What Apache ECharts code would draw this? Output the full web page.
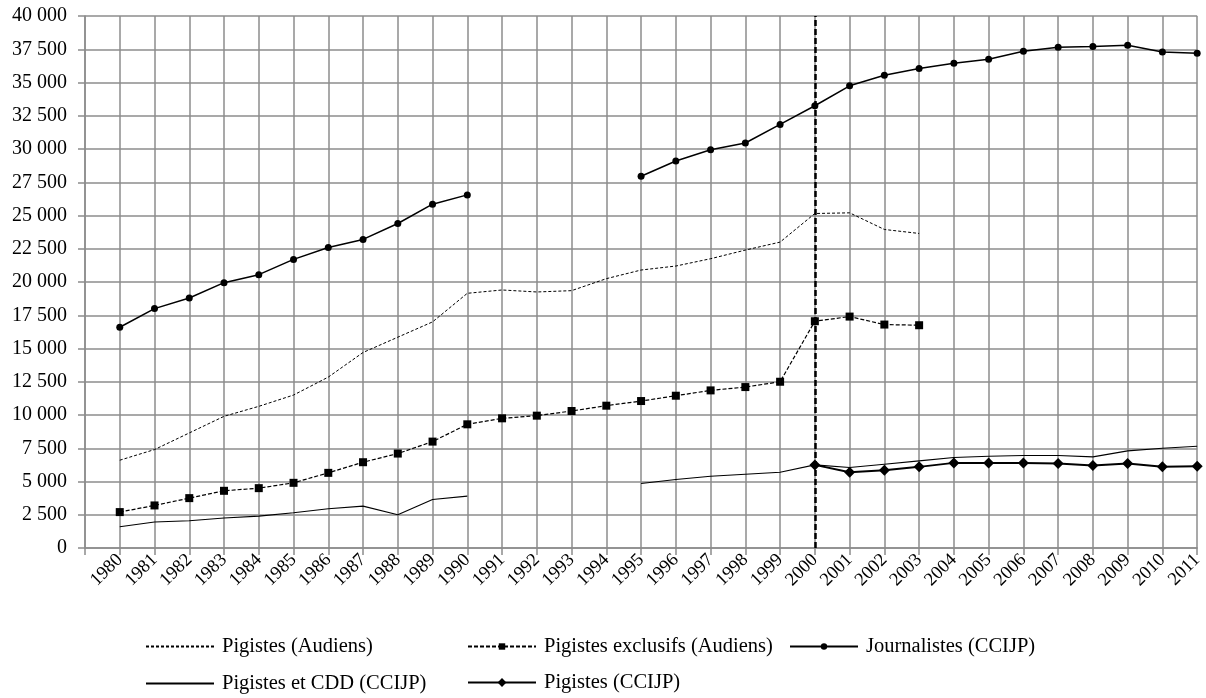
<!DOCTYPE html>
<html>
<head>
<meta charset="utf-8">
<script src="https://cdn.jsdelivr.net/npm/echarts@6/dist/echarts.min.js"></script>
<style>
  html, body { margin: 0; padding: 0; background: #fff; }
  #main { width: 1206px; height: 698px; }
</style>
</head>
<body>
<div id="main"></div>
<script>
  // years on the x axis (an empty slot before 1980, as in the original)
  var years = ['1980','1981','1982','1983','1984','1985','1986','1987','1988','1989','1990',
    '1991','1992','1993','1994','1995','1996','1997','1998','1999','2000',
    '2001','2002','2003','2004','2005','2006','2007','2008','2009','2010','2011'];

  var pigistesAudiens = [6600, 7400, 8650, 9900, 10650, 11500, 12850, 14700, 15850, 17000, 19150,
    19400, 19250, 19350, 20250, 20900, 21200, 21750, 22400, 23000, 25150,
    25200, 23950, 23650, null, null, null, null, null, null, null, null];

  var pigistesExclusifs = [2700, 3200, 3750, 4300, 4500, 4900, 5650, 6450, 7100, 8000, 9300,
    9750, 9950, 10300, 10700, 11050, 11450, 11850, 12100, 12500, 17050,
    17400, 16800, 16750, null, null, null, null, null, null, null, null];

  var journalistes = [16600, 18000, 18800, 19950, 20550, 21700, 22600, 23200, 24400, 25850, 26550,
    null, null, null, null, 27950, 29100, 29950, 30450, 31850, 33250,
    34750, 35550, 36050, 36450, 36750, 37350, 37650, 37700, 37800, 37300, 37200];

  var pigistesCdd = [1600, 1950, 2050, 2250, 2400, 2650, 2950, 3150, 2500, 3650, 3900,
    null, null, null, null, 4850, 5150, 5400, 5550, 5700, 6250,
    6050, 6300, 6550, 6800, 6900, 6950, 6950, 6850, 7300, 7500, 7650];

  var pigistesCcijp = [null, null, null, null, null, null, null, null, null, null, null,
    null, null, null, null, null, null, null, null, null, 6250,
    5700, 5850, 6100, 6400, 6400, 6400, 6350, 6200, 6350, 6100, 6150];

  var font = '"Liberation Serif", "Times New Roman", serif';
  var gridColor = '#8c8c8c';

  function pad(arr, v) { return [v].concat(arr); }
  function fmt(v) { return String(v).replace(/\B(?=(\d{3})+(?!\d))/g, ' '); }

  var chart = echarts.init(document.getElementById('main'));

  function legendAt(name, left, top, opts) {
    opts = opts || {};
    var item = { name: name };
    if (opts.noMarker) item.itemStyle = { opacity: 0 };
    var lg = {
      data: [item],
      left: left,
      top: top,
      padding: 0,
      itemWidth: 68,
      itemHeight: opts.h || 8,
      selectedMode: false,
      textStyle: { fontFamily: font, fontSize: 20.5, color: '#000', padding: [0, 0, 0, 3] }
    };
    if (opts.lw) lg.lineStyle = { width: opts.lw };
    return lg;
  }

  chart.setOption({
    animation: false,
    backgroundColor: '#fff',
    grid: { left: 85, right: 7, top: 16, bottom: 150 },
    legend: [
      legendAt('Pigistes (Audiens)', 145, 636, { noMarker: true }),
      legendAt('Pigistes exclusifs (Audiens)', 467, 636),
      legendAt('Journalistes (CCIJP)', 789, 636),
      legendAt('Pigistes et CDD (CCIJP)', 145, 673, { noMarker: true }),
      legendAt('Pigistes (CCIJP)', 467, 672, { h: 11, lw: 2 })
    ],
    xAxis: {
      type: 'category',
      boundaryGap: false,
      data: pad(years, ''),
      axisLine: { lineStyle: { color: gridColor, width: 1.5 } },
      axisTick: { show: true, interval: 0, length: 7, lineStyle: { color: gridColor, width: 1.5 } },
      splitLine: { show: true, interval: 0, lineStyle: { color: gridColor, width: 1.5 } },
      axisLabel: { interval: 0, rotate: 45, margin: 9, fontFamily: font, fontSize: 18.5, color: '#000' }
    },
    yAxis: {
      type: 'value',
      min: 0,
      max: 40000,
      interval: 2500,
      axisLine: { show: true, lineStyle: { color: gridColor, width: 1.5 } },
      axisTick: { show: true, length: 7, lineStyle: { color: gridColor, width: 1.5 } },
      splitLine: { show: true, lineStyle: { color: gridColor, width: 1.5 } },
      axisLabel: { margin: 18, fontFamily: font, fontSize: 20, color: '#000', formatter: fmt }
    },
    series: [
      {
        name: 'Pigistes (Audiens)',
        type: 'line',
        data: pad(pigistesAudiens, null),
        symbol: 'none',
        color: '#000',
        lineStyle: { color: '#000', width: 1, type: [3, 2] }
      },
      {
        name: 'Pigistes exclusifs (Audiens)',
        type: 'line',
        data: pad(pigistesExclusifs, null),
        symbol: 'rect',
        symbolSize: 8,
        color: '#000',
        itemStyle: { color: '#000' },
        lineStyle: { color: '#000', width: 1.2, type: [4, 2] }
      },
      {
        name: 'Journalistes (CCIJP)',
        type: 'line',
        data: pad(journalistes, null),
        symbol: 'circle',
        symbolSize: 7,
        color: '#000',
        itemStyle: { color: '#000' },
        lineStyle: { color: '#000', width: 1.5 },
        markLine: {
          silent: true,
          symbol: 'none',
          label: { show: false },
          lineStyle: { color: '#000', width: 2.5, type: [6, 3] },
          data: [{ xAxis: '2000' }]
        }
      },
      {
        name: 'Pigistes et CDD (CCIJP)',
        type: 'line',
        data: pad(pigistesCdd, null),
        symbol: 'none',
        color: '#000',
        lineStyle: { color: '#000', width: 1.1 }
      },
      {
        name: 'Pigistes (CCIJP)',
        type: 'line',
        data: pad(pigistesCcijp, null),
        symbol: 'diamond',
        symbolSize: 11,
        color: '#000',
        itemStyle: { color: '#000' },
        lineStyle: { color: '#000', width: 2 }
      }
    ]
  });
</script>
</body>
</html>
